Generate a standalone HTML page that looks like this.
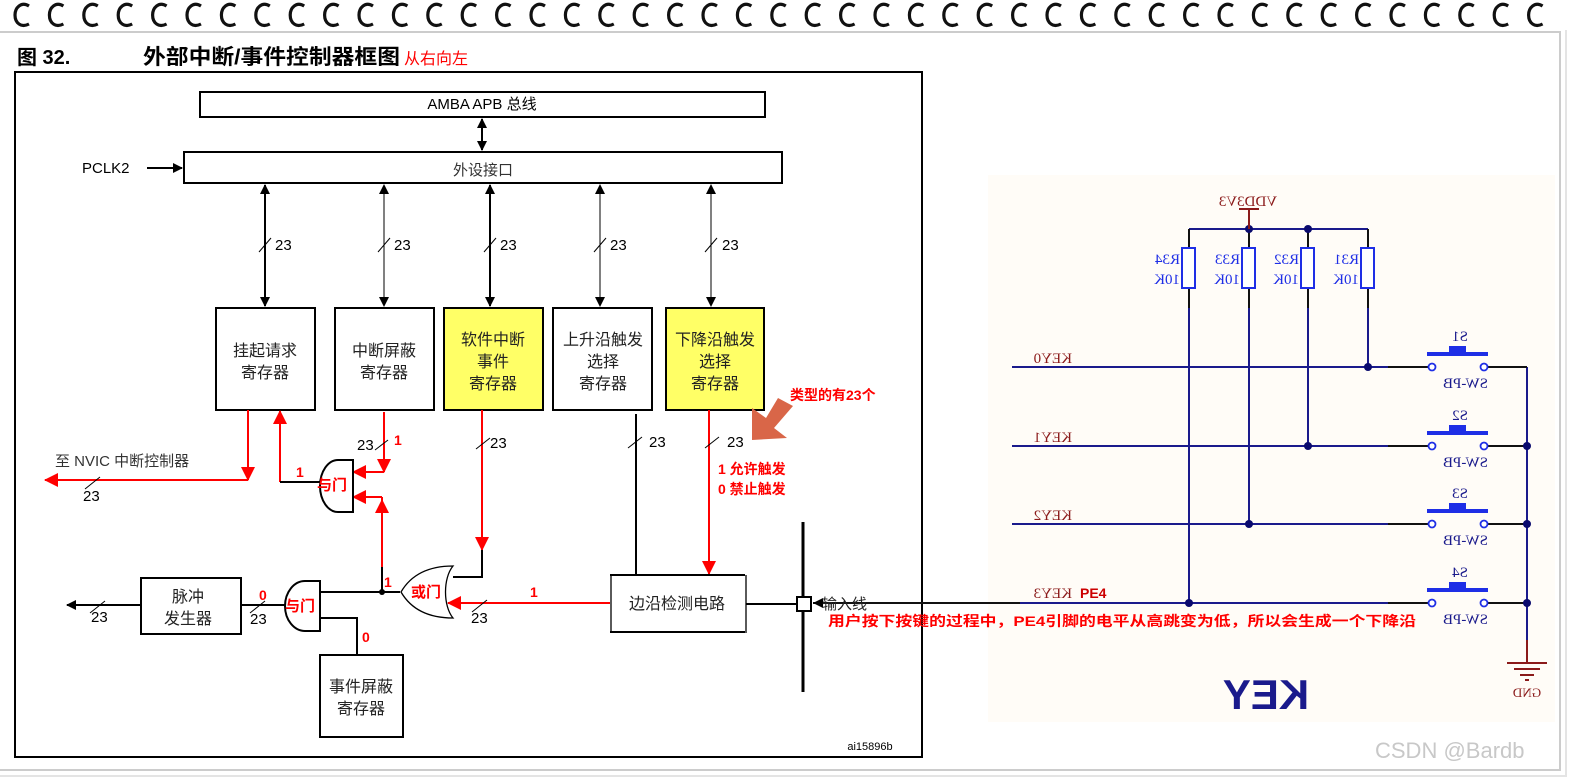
<!DOCTYPE html>
<html><head><meta charset="utf-8"><style>
html,body{margin:0;padding:0;background:#fff;}
svg{display:block;font-family:"Liberation Sans","Noto Sans CJK SC",sans-serif;}
</style></head><body>
<svg width="1575" height="782" viewBox="0 0 1575 782" xmlns="http://www.w3.org/2000/svg">
<defs>
<marker id="ab" markerWidth="10" markerHeight="10" refX="9" refY="5" orient="auto" markerUnits="userSpaceOnUse"><path d="M0,0 L10,5 L0,10 z" fill="#000"/></marker>
<marker id="abs" markerWidth="10" markerHeight="10" refX="1" refY="5" orient="auto" markerUnits="userSpaceOnUse"><path d="M10,0 L0,5 L10,10 z" fill="#000"/></marker>
<marker id="ar" markerWidth="14" markerHeight="14" refX="13" refY="7" orient="auto" markerUnits="userSpaceOnUse"><path d="M0,0 L14,7 L0,14 z" fill="#f00"/></marker>
<path id="ring" d="M29,6 C21,1 15,8 15,15 C15,23 21,28 29,24"/>
</defs>
<rect width="1575" height="782" fill="#fff"/>
<path d="M0,32 H1560 V770 H0" fill="none" stroke="#ccc" stroke-width="2"/>
<path d="M1566,30 V776 H0" fill="none" stroke="#e4e4e4" stroke-width="2"/>
<g fill="none" stroke="#111" stroke-width="3.2">
<use href="#ring"/><use href="#ring" x="34.4"/><use href="#ring" x="68.8"/><use href="#ring" x="103.2"/><use href="#ring" x="137.6"/><use href="#ring" x="172"/><use href="#ring" x="206.4"/><use href="#ring" x="240.8"/><use href="#ring" x="275.2"/><use href="#ring" x="309.6"/><use href="#ring" x="344"/><use href="#ring" x="378.4"/><use href="#ring" x="412.8"/><use href="#ring" x="447.2"/><use href="#ring" x="481.6"/><use href="#ring" x="516"/><use href="#ring" x="550.4"/><use href="#ring" x="584.8"/><use href="#ring" x="619.2"/><use href="#ring" x="653.6"/><use href="#ring" x="688"/><use href="#ring" x="722.4"/><use href="#ring" x="756.8"/><use href="#ring" x="791.2"/><use href="#ring" x="825.6"/><use href="#ring" x="860"/><use href="#ring" x="894.4"/><use href="#ring" x="928.8"/><use href="#ring" x="963.2"/><use href="#ring" x="997.6"/><use href="#ring" x="1032"/><use href="#ring" x="1066.4"/><use href="#ring" x="1100.8"/><use href="#ring" x="1135.2"/><use href="#ring" x="1169.6"/><use href="#ring" x="1204"/><use href="#ring" x="1238.4"/><use href="#ring" x="1272.8"/><use href="#ring" x="1307.2"/><use href="#ring" x="1341.6"/><use href="#ring" x="1376"/><use href="#ring" x="1410.4"/><use href="#ring" x="1444.8"/><use href="#ring" x="1479.2"/><use href="#ring" x="1513.6"/>
</g>
<text x="17" y="64" font-size="20" font-weight="bold">图 32.</text>
<text x="143" y="64" font-size="21" font-weight="bold" textLength="257" lengthAdjust="spacingAndGlyphs">外部中断/事件控制器框图</text>
<text x="404" y="64" font-size="16" fill="#f00">从右向左</text>
<rect x="15" y="72" width="907" height="685" fill="none" stroke="#000" stroke-width="2"/>
<text x="870" y="750" font-size="11" text-anchor="middle">ai15896b</text>

<g stroke="#000" stroke-width="2" fill="none">
<rect x="200" y="92" width="565" height="25"/>
<rect x="184" y="152" width="598" height="31"/>
<line x1="482" y1="119" x2="482" y2="150" marker-end="url(#ab)" marker-start="url(#abs)"/>
<line x1="147" y1="168" x2="182" y2="168" marker-end="url(#ab)"/>
<line x1="265" y1="185" x2="265" y2="306" marker-end="url(#ab)" marker-start="url(#abs)"/>
<line x1="384" y1="185" x2="384" y2="306" stroke-width="1" marker-end="url(#ab)" marker-start="url(#abs)"/>
<line x1="490" y1="185" x2="490" y2="306" marker-end="url(#ab)" marker-start="url(#abs)"/>
<line x1="600" y1="185" x2="600" y2="306" stroke-width="1" marker-end="url(#ab)" marker-start="url(#abs)"/>
<line x1="711" y1="185" x2="711" y2="306" stroke-width="1" marker-end="url(#ab)" marker-start="url(#abs)"/>
</g>
<g stroke="#000" stroke-width="1">
<line x1="259" y1="252" x2="271" y2="238"/><line x1="378" y1="252" x2="390" y2="238"/><line x1="484" y1="252" x2="496" y2="238"/><line x1="594" y1="252" x2="606" y2="238"/><line x1="705" y1="252" x2="717" y2="238"/>
</g>
<g font-size="15">
<text x="482" y="109" text-anchor="middle">AMBA APB 总线</text>
<text x="82" y="173">PCLK2</text>
<text x="483" y="175" text-anchor="middle" fill="#333">外设接口</text>
<text x="275" y="250">23</text><text x="394" y="250">23</text><text x="500" y="250">23</text><text x="610" y="250">23</text><text x="722" y="250">23</text>
</g>
<g stroke="#000" stroke-width="2">
<rect x="216" y="308" width="99" height="102" fill="#fff"/>
<rect x="335" y="308" width="99" height="102" fill="#fff"/>
<rect x="444" y="308" width="99" height="102" fill="#ffff66"/>
<rect x="553" y="308" width="99" height="102" fill="#fff"/>
<rect x="666" y="308" width="98" height="102" fill="#ffff66"/>
</g>
<g font-size="16" text-anchor="middle" fill="#222">
<text x="265" y="356">挂起请求</text><text x="265" y="378">寄存器</text>
<text x="384" y="356">中断屏蔽</text><text x="384" y="378">寄存器</text>
<text x="493" y="345">软件中断</text><text x="493" y="367">事件</text><text x="493" y="389">寄存器</text>
<text x="603" y="345">上升沿触发</text><text x="603" y="367">选择</text><text x="603" y="389">寄存器</text>
<text x="715" y="345">下降沿触发</text><text x="715" y="367">选择</text><text x="715" y="389">寄存器</text>
</g>
<g stroke="#f00" stroke-width="2" fill="none">
<line x1="248" y1="410" x2="248" y2="480" marker-end="url(#ar)"/>
<line x1="248" y1="480" x2="45" y2="480" marker-end="url(#ar)"/>
<line x1="280" y1="482" x2="280" y2="411" marker-end="url(#ar)"/>
<line x1="384" y1="412" x2="384" y2="472" marker-end="url(#ar)"/>
<line x1="384" y1="472" x2="353" y2="472" marker-end="url(#ar)"/>
<line x1="382" y1="565" x2="382" y2="500" marker-end="url(#ar)"/>
<line x1="382" y1="497" x2="382" y2="567"/>
<line x1="382" y1="497" x2="353" y2="497" marker-end="url(#ar)"/>
<line x1="482" y1="410" x2="482" y2="550" marker-end="url(#ar)"/>
<line x1="610" y1="603" x2="448" y2="603" marker-end="url(#ar)"/>
<line x1="709" y1="410" x2="709" y2="574" marker-end="url(#ar)"/>
</g>
<g stroke="#000" stroke-width="2" fill="none">
<polyline points="280,482 320,482"/>
<path d="M353,460 H338 A18,26 0 0 0 338,512 H353 Z"/>
<polyline points="382,567 382,592"/>
<polyline points="482,550 482,577 453,577"/>
<line x1="400" y1="592" x2="320" y2="592"/>
<path d="M453,566 C440,566 415,568 401,592 C415,616 440,618 453,618 C443,606 443,578 453,566 Z" stroke-width="1.3"/>
<path d="M320,581 H305 A20,25 0 0 0 305,631 H320 Z"/>
<line x1="285" y1="605" x2="241" y2="605"/>
<rect x="141" y="578" width="100" height="56"/>
<line x1="141" y1="605" x2="67" y2="605" marker-end="url(#ab)"/>
<polyline points="320,618 357,618 357,655"/>
<rect x="320" y="655" width="83" height="82"/>
<line x1="636" y1="414" x2="636" y2="575"/>
<line x1="610" y1="575" x2="745" y2="575"/><line x1="610" y1="632" x2="745" y2="632"/>
<line x1="611" y1="575" x2="611" y2="633" stroke-width="1.3"/><line x1="746" y1="575" x2="746" y2="633" stroke-width="1.3"/>
<line x1="746" y1="604" x2="797" y2="604"/>
<line x1="803" y1="522" x2="803" y2="692" stroke-width="3"/>
<rect x="797" y="597" width="14" height="14" fill="#fff"/>
</g>
<circle cx="382" cy="592" r="3"/>
<g stroke="#000" stroke-width="1">
<line x1="85" y1="489" x2="100" y2="477"/><line x1="90" y1="613" x2="105" y2="601"/><line x1="250" y1="613" x2="265" y2="601"/>
<line x1="375" y1="450" x2="388" y2="440"/><line x1="476" y1="449" x2="490" y2="438"/><line x1="472" y1="612" x2="487" y2="600"/>
<line x1="628" y1="448" x2="642" y2="437"/><line x1="705" y1="448" x2="719" y2="437"/>
</g>
<g font-size="15">
<text x="55" y="466" fill="#333">至 NVIC 中断控制器</text>
<text x="83" y="501">23</text><text x="91" y="622">23</text><text x="250" y="624">23</text>
<text x="357" y="450">23</text><text x="490" y="448">23</text><text x="471" y="623">23</text>
<text x="649" y="447">23</text><text x="727" y="447">23</text>
</g>
<g font-size="16" text-anchor="middle" fill="#222">
<text x="188" y="602">脉冲</text><text x="188" y="624">发生器</text>
<text x="361" y="692">事件屏蔽</text><text x="361" y="714">寄存器</text>
<text x="677" y="609">边沿检测电路</text>
</g>
<path d="M793,406 L778,398 L766,418 L752,408 L752,440 L787,438 L774,428 Z" fill="#d96648"/>

<!-- schematic -->
<rect x="988" y="175" width="567" height="547" fill="#fffcf7"/>
<g stroke="#1a1a8c" stroke-width="2" fill="none">
<line x1="1189" y1="229" x2="1368" y2="229"/>
<line x1="1189" y1="308" x2="1189" y2="603"/>
<line x1="1249" y1="308" x2="1249" y2="524"/>
<line x1="1308" y1="308" x2="1308" y2="446"/>
<line x1="1368" y1="308" x2="1368" y2="367"/>
<line x1="1012" y1="367" x2="1388" y2="367"/>
<line x1="1012" y1="446" x2="1388" y2="446"/>
<line x1="1012" y1="524" x2="1388" y2="524"/>
<line x1="1020" y1="603" x2="1388" y2="603"/>
<line x1="1527" y1="367" x2="1527" y2="640"/>
</g>
<g stroke="#111" stroke-width="2">
<line x1="1189" y1="229" x2="1189" y2="308"/><line x1="1249" y1="229" x2="1249" y2="308"/><line x1="1308" y1="229" x2="1308" y2="308"/><line x1="1368" y1="229" x2="1368" y2="308"/>
<line x1="1388" y1="367" x2="1428" y2="367"/><line x1="1388" y1="446" x2="1428" y2="446"/><line x1="1388" y1="524" x2="1428" y2="524"/><line x1="1388" y1="603" x2="1428" y2="603"/>
<line x1="1488" y1="367" x2="1527" y2="367"/><line x1="1488" y1="446" x2="1527" y2="446"/><line x1="1488" y1="524" x2="1527" y2="524"/><line x1="1488" y1="603" x2="1527" y2="603"/>
<line x1="813" y1="603" x2="1020" y2="603"/>
</g>
<path d="M813,603 L823,598 L823,608 Z" fill="#000"/>
<g stroke="#1e2ee6" stroke-width="2" fill="#fff">
<rect x="1182" y="248" width="13" height="40"/><rect x="1242" y="248" width="13" height="40"/><rect x="1301" y="248" width="13" height="40"/><rect x="1361" y="248" width="13" height="40"/>
</g>
<g fill="#0a0a6e"><circle cx="1249" cy="229" r="4"/><circle cx="1308" cy="229" r="4"/><circle cx="1368" cy="367" r="4"/><circle cx="1308" cy="446" r="4"/><circle cx="1249" cy="524" r="4"/><circle cx="1189" cy="603" r="4"/><circle cx="1527" cy="446" r="4"/><circle cx="1527" cy="524" r="4"/><circle cx="1527" cy="603" r="4"/></g>
<g id="sw">
<rect x="1427" y="352" width="61" height="4" fill="#1e2ee6"/><rect x="1449" y="346" width="17" height="7" fill="#1e2ee6"/>
<circle cx="1432" cy="367" r="3.5" fill="#fff" stroke="#1e2ee6" stroke-width="1.8"/><circle cx="1484" cy="367" r="3.5" fill="#fff" stroke="#1e2ee6" stroke-width="1.8"/>
</g>
<use href="#sw" y="79"/><use href="#sw" y="157"/><use href="#sw" y="236"/>
<g stroke="#8b1a1a" stroke-width="2">
<line x1="1249" y1="209" x2="1249" y2="229"/><line x1="1239" y1="209" x2="1259" y2="209"/>
<line x1="1527" y1="640" x2="1527" y2="662"/>
<line x1="1507" y1="663" x2="1547" y2="663"/><line x1="1514" y1="669" x2="1540" y2="669"/><line x1="1520" y1="675" x2="1534" y2="675"/><line x1="1525" y1="680" x2="1529" y2="680"/>
</g>
<g font-family="'Liberation Serif',serif" font-size="15">
<text transform="translate(1248,206) scale(-1,1)" text-anchor="middle" fill="#8b1a1a">VDD3V3</text>
<g fill="#1e2ee6">
<text transform="translate(1180,264) scale(-1,1)">R34</text><text transform="translate(1180,284) scale(-1,1)">10K</text>
<text transform="translate(1240,264) scale(-1,1)">R33</text><text transform="translate(1240,284) scale(-1,1)">10K</text>
<text transform="translate(1299,264) scale(-1,1)">R32</text><text transform="translate(1299,284) scale(-1,1)">10K</text>
<text transform="translate(1359,264) scale(-1,1)">R31</text><text transform="translate(1359,284) scale(-1,1)">10K</text>
</g>
<g fill="#8b1a1a">
<text transform="translate(1072,363) scale(-1,1)">KEY0</text>
<text transform="translate(1072,442) scale(-1,1)">KEY1</text>
<text transform="translate(1072,520) scale(-1,1)">KEY2</text>
<text transform="translate(1072,598) scale(-1,1)">KEY3</text>
<text transform="translate(1527,697) scale(-1,1)" text-anchor="middle" font-size="13">GND</text>
</g>
<g fill="#1a1a8c">
<text transform="translate(1468,341) scale(-1,1)">S1</text><text transform="translate(1488,388) scale(-1,1)">SW-PB</text>
<text transform="translate(1468,420) scale(-1,1)">S2</text><text transform="translate(1488,467) scale(-1,1)">SW-PB</text>
<text transform="translate(1468,498) scale(-1,1)">S3</text><text transform="translate(1488,545) scale(-1,1)">SW-PB</text>
<text transform="translate(1468,577) scale(-1,1)">S4</text><text transform="translate(1488,624) scale(-1,1)">SW-PB</text>
</g>
</g>
<text x="1080" y="598" font-size="14" font-weight="bold" fill="#c00">PE4</text>
<text transform="translate(1266,709) scale(-1,1)" text-anchor="middle" font-size="42" font-weight="bold" fill="#1a1a8c">KEY</text>
<text x="1375" y="758" font-size="22" fill="#c8c8c8">CSDN @Bardb</text>

<text x="822" y="609" font-size="15" fill="#222">输入线</text>
<g fill="#f00" font-size="14" font-weight="bold">
<text x="394" y="445">1</text><text x="296" y="477">1</text><text x="384" y="587">1</text><text x="530" y="597">1</text>
<text x="259" y="600">0</text><text x="362" y="642">0</text>
<text x="317" y="490" font-size="15">与门</text><text x="285" y="611" font-size="15">与门</text><text x="411" y="597" font-size="15">或门</text>
<text x="718" y="474">1 允许触发</text><text x="718" y="494">0 禁止触发</text>
<text x="790" y="400">类型的有23个</text>
<text x="828" y="626" textLength="588" lengthAdjust="spacingAndGlyphs">用户按下按键的过程中，PE4引脚的电平从高跳变为低，所以会生成一个下降沿</text>
</g>
</svg>
</body></html>
